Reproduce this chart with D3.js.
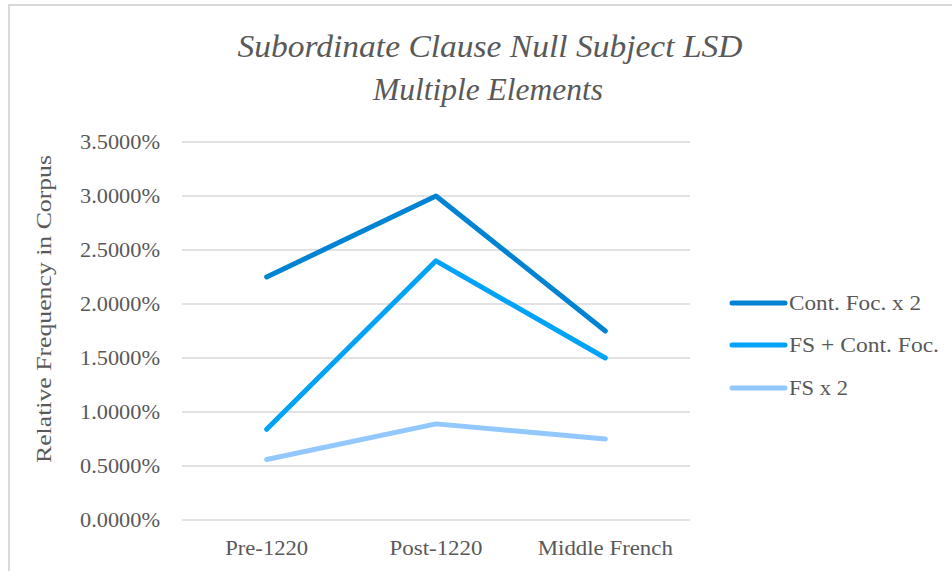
<!DOCTYPE html>
<html><head><meta charset="utf-8">
<script src="https://cdn.jsdelivr.net/npm/d3@7/dist/d3.min.js"></script>
<style>body{margin:0;background:#fff;} svg{display:block;}</style>
</head><body>
<svg id="c" width="952" height="571"></svg>
<script>
const categories = ["Pre-1220", "Post-1220", "Middle French"];
const seriesNames = ["Cont. Foc. x 2", "FS + Cont. Foc.", "FS x 2"];
const contFocX2 = [0.0225, 0.0300, 0.0175];
const fsContFoc = [0.0084, 0.0240, 0.0150];
const fsX2 = [0.0056, 0.0089, 0.0075];
const yTicks = [0, 0.005, 0.01, 0.015, 0.02, 0.025, 0.03, 0.035];
const colors = ["#0083D2", "#00A3F7", "#93C8FF"];
const series = [contFocX2, fsContFoc, fsX2];

const svg = d3.select("#c");
const font = "'Liberation Serif', 'DejaVu Serif', serif";
const txt = "#595959";

// frame
svg.append("rect").attr("x", 9).attr("y", 5).attr("width", 960).attr("height", 600)
  .attr("fill", "none").attr("stroke", "#d9d9d9").attr("stroke-width", 2);

const x = d3.scaleBand().domain(categories).range([182, 690]);
const y = d3.scaleLinear().domain([0, 0.035]).range([520, 142]);

// gridlines
svg.append("g").selectAll("line").data(yTicks).join("line")
  .attr("x1", 182).attr("x2", 690)
  .attr("y1", d => y(d)).attr("y2", d => y(d))
  .attr("stroke", "#d9d9d9").attr("stroke-width", 1.5);

// y axis
const yAxis = d3.axisLeft(y).tickValues(yTicks).tickFormat(d3.format(".4%")).tickSize(0).tickPadding(22);
const gy = svg.append("g").attr("transform", "translate(182,0)").call(yAxis);
gy.select(".domain").remove();
gy.selectAll("text").attr("font-family", font).attr("font-size", 20.5).attr("fill", txt)
  .attr("textLength", 80).attr("lengthAdjust", "spacingAndGlyphs");

// x axis
const xWidths = {"Pre-1220": 83, "Post-1220": 93, "Middle French": 135};
const xAxis = d3.axisBottom(x).tickSize(0).tickPadding(20);
const gx = svg.append("g").attr("transform", "translate(0,520)").call(xAxis);
gx.select(".domain").remove();
gx.selectAll("text").attr("font-family", font).attr("font-size", 20.5).attr("fill", txt)
  .attr("textLength", d => xWidths[d]).attr("lengthAdjust", "spacingAndGlyphs");

// lines
const line = d3.line().x((d, i) => x(categories[i]) + x.bandwidth() / 2).y(d => y(d));
svg.append("g").selectAll("path").data(series).join("path")
  .attr("d", d => line(d))
  .attr("fill", "none")
  .attr("stroke", (d, i) => colors[i])
  .attr("stroke-width", 5)
  .attr("stroke-linecap", "round")
  .attr("stroke-linejoin", "round");

// titles
svg.append("text").attr("x", 490).attr("y", 57).attr("text-anchor", "middle")
  .attr("font-family", font).attr("font-style", "italic").attr("font-size", 32)
  .attr("fill", txt).attr("textLength", 505).attr("lengthAdjust", "spacingAndGlyphs")
  .text("Subordinate Clause Null Subject LSD");
svg.append("text").attr("x", 488).attr("y", 100).attr("text-anchor", "middle")
  .attr("font-family", font).attr("font-style", "italic").attr("font-size", 32)
  .attr("fill", txt).attr("textLength", 230).attr("lengthAdjust", "spacingAndGlyphs")
  .text("Multiple Elements");

// y axis title
svg.append("text").attr("transform", "translate(51,309) rotate(-90)").attr("text-anchor", "middle")
  .attr("font-family", font).attr("font-size", 22).attr("fill", txt)
  .attr("textLength", 308).attr("lengthAdjust", "spacingAndGlyphs")
  .text("Relative Frequency in Corpus");

// legend
const legY = [303, 345, 388];
const legW = [132, 150, 59];
const lg = svg.append("g").selectAll("g").data(seriesNames).join("g")
  .attr("transform", (d, i) => `translate(0,${legY[i]})`);
lg.append("line").attr("x1", 732).attr("x2", 785).attr("y1", 0).attr("y2", 0)
  .attr("stroke", (d, i) => colors[i]).attr("stroke-width", 5).attr("stroke-linecap", "round");
lg.append("text").attr("x", 789).attr("y", 7).attr("font-family", font).attr("font-size", 20.5)
  .attr("fill", txt).attr("textLength", (d, i) => legW[i]).attr("lengthAdjust", "spacingAndGlyphs")
  .text(d => d);
</script>
</body></html>
